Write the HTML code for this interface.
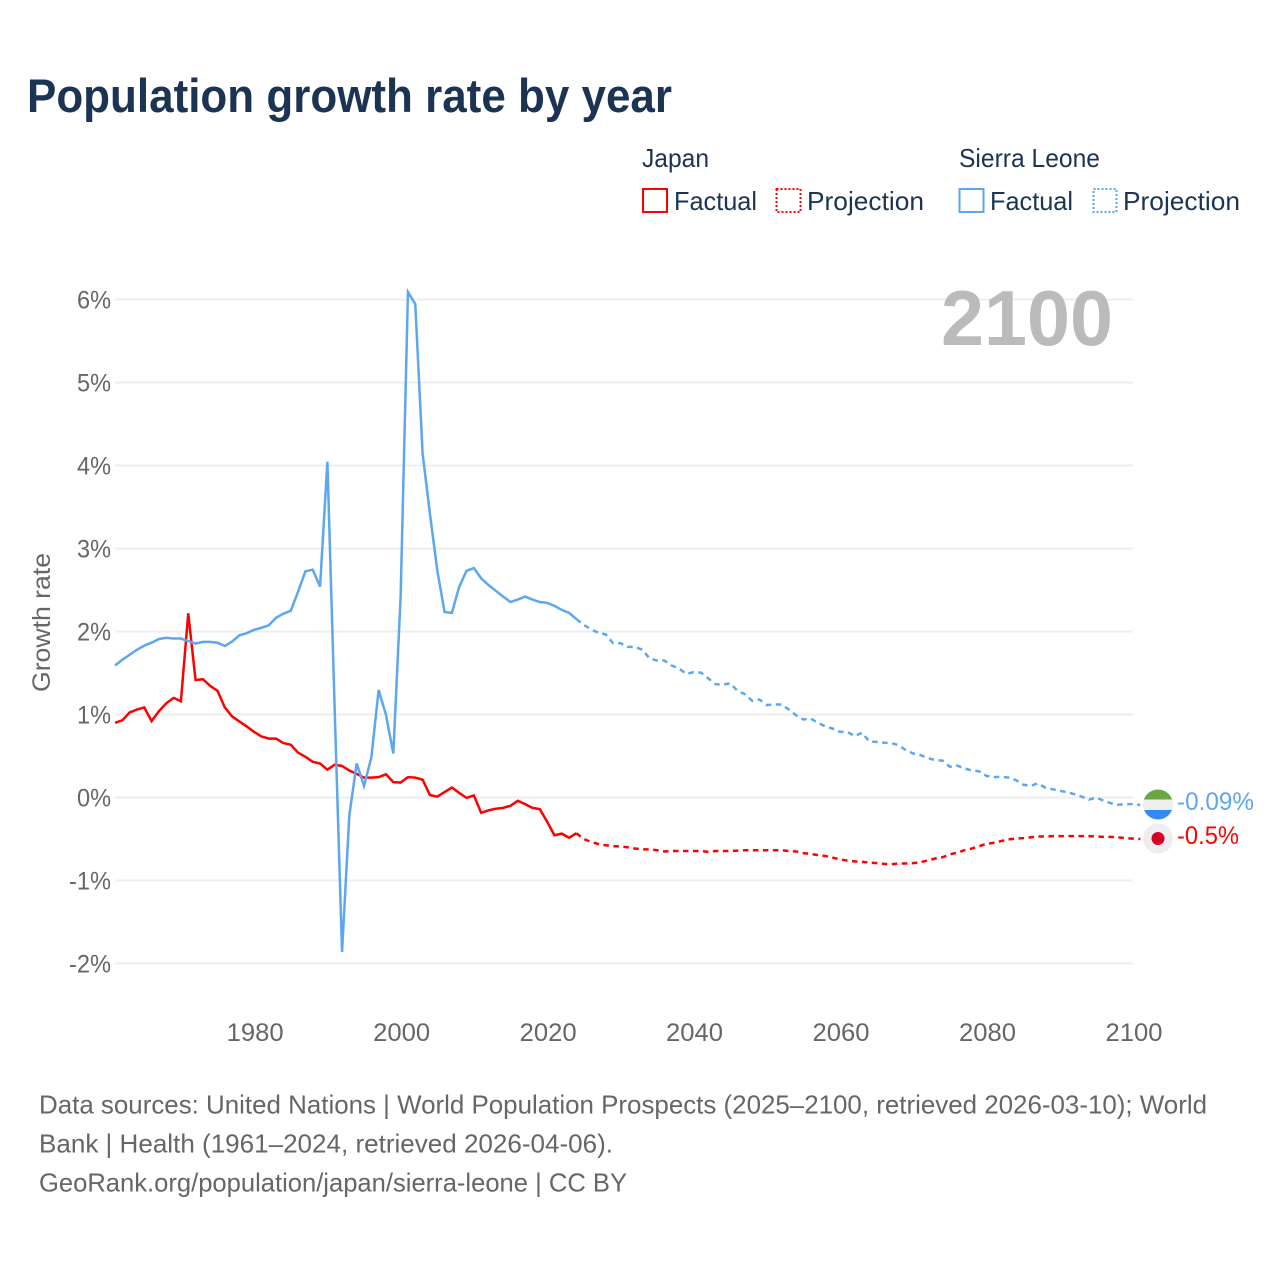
<!DOCTYPE html>
<html lang="en">
<head>
<meta charset="utf-8">
<title>Population growth rate by year</title>
<style>
  html, body { margin: 0; padding: 0; background: #ffffff; }
  svg { display: block; font-family: "Liberation Sans", sans-serif; }
  .navy { fill: #1b3454; }
  .grey { fill: #666666; }
</style>
</head>
<body>
<svg xmlns="http://www.w3.org/2000/svg" width="1280" height="1280" viewBox="0 0 1280 1280">
  <defs>
    <clipPath id="sl-clip"><circle cx="1158" cy="804.5" r="15"></circle></clipPath>
  </defs>
  <rect x="0" y="0" width="1280" height="1280" fill="#ffffff"></rect>

  <text x="27" y="112" font-size="47" font-weight="700" class="navy" textLength="645" lengthAdjust="spacingAndGlyphs">Population growth rate by year</text>

  <g>
    <text x="642" y="167" font-size="26" class="navy" textLength="67" lengthAdjust="spacingAndGlyphs">Japan</text>
    <text x="959" y="167" font-size="26" class="navy" textLength="141" lengthAdjust="spacingAndGlyphs">Sierra Leone</text>

    <g>
      <rect x="643" y="189" width="24" height="23" fill="none" stroke="#ff0000" stroke-width="2"></rect>
      <text x="674" y="210" font-size="26" class="navy" textLength="83" lengthAdjust="spacingAndGlyphs">Factual</text>
    </g>
    <g>
      <rect x="776.5" y="189" width="24" height="23" fill="none" stroke="#ff0000" stroke-width="2" stroke-dasharray="2 2"></rect>
      <text x="807" y="210" font-size="26" class="navy" textLength="117" lengthAdjust="spacingAndGlyphs">Projection</text>
    </g>
    <g>
      <rect x="959.5" y="189" width="24" height="23" fill="none" stroke="#5ea6ee" stroke-width="2"></rect>
      <text x="990" y="210" font-size="26" class="navy" textLength="83" lengthAdjust="spacingAndGlyphs">Factual</text>
    </g>
    <g>
      <rect x="1093.5" y="189" width="23" height="23" fill="none" stroke="#5ea6ee" stroke-width="2" stroke-dasharray="2 2"></rect>
      <text x="1123" y="210" font-size="26" class="navy" textLength="117" lengthAdjust="spacingAndGlyphs">Projection</text>
    </g>
  </g>

  <g id="grid-layer"></g>
  <g id="y-tick-layer"></g>
  <g id="x-tick-layer"></g>

  <text x="0" y="0" transform="translate(50,622.5) rotate(-90)" text-anchor="middle" font-size="25" class="grey" textLength="139" lengthAdjust="spacingAndGlyphs">Growth rate</text>

  <text x="1113" y="345" text-anchor="end" font-size="78" font-weight="700" fill="#bbbbbb" textLength="172" lengthAdjust="spacingAndGlyphs">2100</text>

  <g id="series-layer"></g>

  <g>
    <g clip-path="url(#sl-clip)">
      <rect x="1142" y="788" width="32" height="12" fill="#6da544"></rect>
      <rect x="1142" y="799.5" width="32" height="10.5" fill="#eeeeee"></rect>
      <rect x="1142" y="810" width="32" height="11" fill="#338af3"></rect>
    </g>
  </g>
  <g>
    <circle cx="1158" cy="838.5" r="15" fill="#eeeeee"></circle>
    <circle cx="1158" cy="838.5" r="6.5" fill="#d80027"></circle>
  </g>

  <text x="1177" y="810" font-size="25" fill="#5ea6ee" textLength="77" lengthAdjust="spacingAndGlyphs">-0.09%</text>
  <text x="1177" y="844" font-size="25" fill="#ff0000" textLength="62" lengthAdjust="spacingAndGlyphs">-0.5%</text>

  <g>
    <text x="39" y="1113.5" font-size="26" class="grey" textLength="1168" lengthAdjust="spacingAndGlyphs">Data sources: United Nations | World Population Prospects (2025–2100, retrieved 2026-03-10); World</text>
    <text x="39" y="1152.5" font-size="26" class="grey" textLength="574" lengthAdjust="spacingAndGlyphs">Bank | Health (1961–2024, retrieved 2026-04-06).</text>
    <text x="39" y="1191.5" font-size="26" class="grey" textLength="588" lengthAdjust="spacingAndGlyphs">GeoRank.org/population/japan/sierra-leone | CC BY</text>
  </g>
</svg>

<script>
const yTicks = [6, 5, 4, 3, 2, 1, 0, -1, -2];
const xTicks = [1980, 2000, 2020, 2040, 2060, 2080, 2100];
const factualStartYear = 1961;
const projectionStartYear = 2024;

const japanFactual = [
  0.90, 0.93, 1.025, 1.06, 1.085, 0.92, 1.04, 1.135, 1.20, 1.16,
  2.22, 1.415, 1.425, 1.345, 1.285, 1.085, 0.975, 0.915, 0.855, 0.79,
  0.735, 0.71, 0.71, 0.655, 0.635, 0.54, 0.49, 0.43, 0.41, 0.335,
  0.395, 0.38, 0.325, 0.285, 0.24, 0.24, 0.245, 0.28, 0.185, 0.18,
  0.245, 0.24, 0.215, 0.03, 0.01, 0.065, 0.12, 0.055, -0.005, 0.025,
  -0.185, -0.155, -0.135, -0.125, -0.10, -0.04, -0.08, -0.125, -0.14, -0.29,
  -0.455, -0.435, -0.485, -0.43
];
const japanProjection = [
  -0.43, -0.50, -0.535, -0.56, -0.575, -0.585, -0.59, -0.60, -0.615, -0.625,
  -0.625, -0.635, -0.65, -0.645, -0.645, -0.645, -0.645, -0.645, -0.655, -0.645,
  -0.645, -0.645, -0.64, -0.635, -0.635, -0.635, -0.635, -0.635, -0.635, -0.645,
  -0.65, -0.67, -0.68, -0.695, -0.705, -0.725, -0.745, -0.76, -0.77, -0.775,
  -0.785, -0.79, -0.80, -0.805, -0.795, -0.795, -0.79, -0.78, -0.757, -0.735,
  -0.72, -0.685, -0.665, -0.635, -0.615, -0.585, -0.56, -0.545, -0.525, -0.505,
  -0.495, -0.49, -0.48, -0.47, -0.47, -0.465, -0.465, -0.465, -0.465, -0.465,
  -0.465, -0.47, -0.475, -0.475, -0.48, -0.49, -0.495, -0.50
];
const sierraLeoneFactual = [
  1.59, 1.66, 1.72, 1.78, 1.83, 1.865, 1.91, 1.925, 1.915, 1.915,
  1.885, 1.855, 1.875, 1.875, 1.865, 1.825, 1.88, 1.955, 1.98, 2.02,
  2.045, 2.075, 2.165, 2.215, 2.25, 2.48, 2.725, 2.745, 2.54, 4.045,
  1.05, -1.86, -0.21, 0.41, 0.14, 0.48, 1.295, 0.995, 0.53, 2.42,
  6.09, 5.945, 4.145, 3.42, 2.74, 2.235, 2.225, 2.54, 2.73, 2.765,
  2.64, 2.56, 2.49, 2.42, 2.355, 2.385, 2.42, 2.385, 2.355, 2.345,
  2.31, 2.26, 2.225, 2.15
];
const sierraLeoneProjection = [
  2.15, 2.08, 2.025, 1.985, 1.965, 1.86, 1.86, 1.815, 1.815, 1.78,
  1.675, 1.65, 1.65, 1.59, 1.555, 1.49, 1.51, 1.505, 1.435, 1.365,
  1.36, 1.375, 1.285, 1.245, 1.165, 1.18, 1.115, 1.12, 1.12, 1.06,
  0.99, 0.94, 0.95, 0.90, 0.855, 0.83, 0.79, 0.79, 0.74, 0.78,
  0.675, 0.67, 0.66, 0.655, 0.63, 0.57, 0.53, 0.51, 0.475, 0.45,
  0.445, 0.37, 0.385, 0.35, 0.325, 0.315, 0.26, 0.245, 0.25, 0.24,
  0.21, 0.155, 0.14, 0.17, 0.12, 0.10, 0.08, 0.065, 0.04, 0.01,
  -0.025, 0, -0.04, -0.07, -0.087, -0.08, -0.08, -0.09
];

const SVG_NS = 'http://www.w3.org/2000/svg';
const plotLeft = 115;
const plotRight = 1133;
const xYearMin = 1961;
const xYearMax = 2100;
const yZero = 797.5;
const yUnit = 83;

function xScale(year) {
  return plotLeft + (year - xYearMin) * (plotRight - plotLeft) / (xYearMax - xYearMin);
}
function yScale(value) {
  return yZero - value * yUnit;
}
function pathFor(values, startYear) {
  return values.map(function (v, i) {
    return (i === 0 ? 'M' : 'L') + xScale(startYear + i).toFixed(2) + ' ' + yScale(v).toFixed(2);
  }).join(' ');
}

const gridLayer = document.getElementById('grid-layer');
const yTickLayer = document.getElementById('y-tick-layer');
const xTickLayer = document.getElementById('x-tick-layer');
const seriesLayer = document.getElementById('series-layer');

yTicks.forEach(function (t) {
  const line = document.createElementNS(SVG_NS, 'line');
  line.setAttribute('x1', plotLeft);
  line.setAttribute('x2', plotRight);
  line.setAttribute('y1', yScale(t));
  line.setAttribute('y2', yScale(t));
  line.setAttribute('stroke', '#eeeeee');
  line.setAttribute('stroke-width', '2');
  
  
  gridLayer.appendChild(line);

  const label = document.createElementNS(SVG_NS, 'text');
  label.setAttribute('x', 111);
  label.setAttribute('y', yScale(t) + 9);
  label.setAttribute('text-anchor', 'end');
  label.setAttribute('font-size', '25');
  label.setAttribute('class', 'grey');
  label.setAttribute('textLength', t < 0 ? '42' : '34');
  label.setAttribute('lengthAdjust', 'spacingAndGlyphs');
  label.textContent = t + '%';
  
  
  yTickLayer.appendChild(label);
});

xTicks.forEach(function (t) {
  const label = document.createElementNS(SVG_NS, 'text');
  label.setAttribute('x', xScale(t) + 1);
  label.setAttribute('y', 1041);
  label.setAttribute('text-anchor', 'middle');
  label.setAttribute('font-size', '25');
  label.setAttribute('class', 'grey');
  label.setAttribute('textLength', '57');
  label.setAttribute('lengthAdjust', 'spacingAndGlyphs');
  label.textContent = String(t);
  
  
  xTickLayer.appendChild(label);
});

function addSeries(values, startYear, color, dashed, name) {
  const p = document.createElementNS(SVG_NS, 'path');
  p.setAttribute('d', pathFor(values, startYear));
  p.setAttribute('fill', 'none');
  p.setAttribute('stroke', color);
  p.setAttribute('stroke-width', '2.5');
  p.setAttribute('stroke-linejoin', 'miter');
  if (dashed) {
    p.setAttribute('stroke-dasharray', '5.5 4.5');
  }
  
  
  seriesLayer.appendChild(p);
}

addSeries(japanFactual, factualStartYear, '#ff0000', false, 'line-japan-factual');
addSeries(japanProjection, projectionStartYear, '#ff0000', true, 'line-japan-projection');
addSeries(sierraLeoneFactual, factualStartYear, '#5ea6ee', false, 'line-sierra-leone-factual');
addSeries(sierraLeoneProjection, projectionStartYear, '#5ea6ee', true, 'line-sierra-leone-projection');
</script>
</body>
</html>
